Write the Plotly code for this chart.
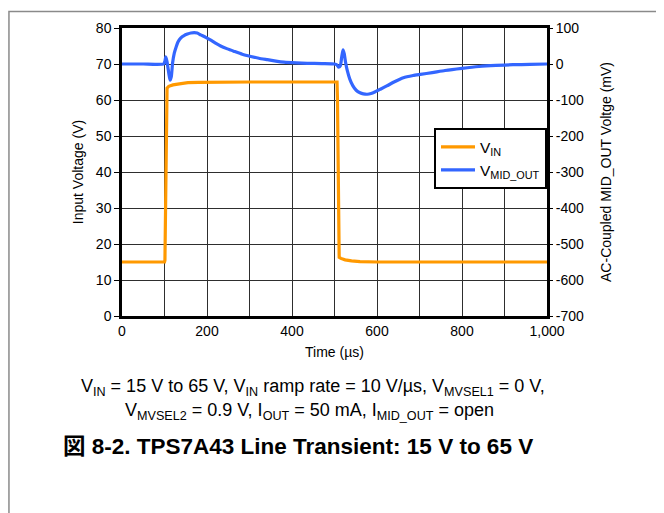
import plotly.graph_objects as go

# ---- data ----
vin_t = [0, 60, 100, 101, 103.5, 106, 110, 120, 135, 155, 180, 220, 300, 400, 450, 506, 507, 508.5, 511, 515, 525, 540, 560, 600, 700, 800, 900, 1000]
vin_v = [15, 15, 15, 15.5, 40, 63.3, 63.8, 64.2, 64.5, 64.8, 64.9, 65, 65, 65, 65, 65, 60, 40, 16.3, 16.0, 15.6, 15.3, 15.1, 15, 15, 15, 15, 15]

mid_t = [0, 50, 98, 101, 103, 106, 110, 113, 116, 119, 123, 127, 132, 138, 146, 154, 162, 170, 177, 185, 197, 209, 220, 232, 248, 264, 283, 303, 322, 342, 362, 381, 410, 436, 470, 500,
         506, 510, 514, 517, 520, 523, 526, 530, 536, 543, 551, 560, 568, 577, 586, 596, 608, 623, 640, 662, 685, 702, 730, 760, 800, 840, 880, 920, 960, 1000]
mid_mv = [0, 0, 0, 8, 20, 6, -25, -45, -35, 3, 30, 46, 62, 72, 79, 83, 86, 87, 86, 81, 74, 66, 58, 50, 42, 35, 27, 21, 16, 12, 8, 5, 3, 2, 1, 0,
          -3, -9, -4, 20, 39, 28, 5, -18, -42, -60, -73, -80, -83, -84, -82, -77, -70, -61, -50, -38, -32, -29, -24, -18, -12, -7, -4, -2, -1, 0]

left_ticks = [0, 10, 20, 30, 40, 50, 60, 70, 80]
right_ticks = [-700, -600, -500, -400, -300, -200, -100, 0, 100]
x_ticks = [0, 200, 400, 600, 800, 1000]
x_ticktext = ["0", "200", "400", "600", "800", "1,000"]

FONT = "Liberation Sans, Arial, Noto Sans CJK JP, sans-serif"
ORANGE = "#FF9900"
BLUE = "#3366FF"
GRID = "#2e2e2e"

fig = go.Figure()
fig.add_trace(go.Scatter(x=vin_t, y=vin_v, mode="lines", name="V<sub>IN</sub>",
                         line=dict(color=ORANGE, width=3.2), yaxis="y"))
fig.add_trace(go.Scatter(x=mid_t, y=mid_mv, mode="lines", name="V<sub>MID_OUT</sub>",
                         line=dict(color=BLUE, width=3.2, shape="spline", smoothing=0.5), yaxis="y2"))

fig.update_layout(
    width=656, height=505,
    margin=dict(l=114, r=117, t=17, b=197),
    paper_bgcolor="white", plot_bgcolor="white",
    font=dict(family=FONT, size=14, color="black"),
    showlegend=True,
    legend=dict(x=1, xanchor="right", y=0.652, yanchor="top",
                bgcolor="white", bordercolor="black", borderwidth=2,
                font=dict(size=15.5, family=FONT), itemwidth=34,
                tracegroupgap=0),
    xaxis=dict(range=[0, 1000], tickvals=x_ticks, ticktext=x_ticktext,
               showgrid=True, gridcolor=GRID, gridwidth=1,
               minor=dict(dtick=100, tick0=0, showgrid=True, gridcolor=GRID, gridwidth=1),
               showline=True, linecolor="black", linewidth=2.5, mirror=True,
               ticks="", zeroline=False,
               title=dict(text="Time (µs)", font=dict(size=14), standoff=10),
               tickfont=dict(size=14)),
    yaxis=dict(range=[0, 80], tickvals=left_ticks, ticktext=[str(v) for v in left_ticks],
               showgrid=True, gridcolor=GRID, gridwidth=1,
               showline=True, linecolor="black", linewidth=2.5, mirror=True,
               ticks="outside", ticklen=5, tickcolor="black", zeroline=False,
               title=dict(text="Input Voltage (V)", font=dict(size=14), standoff=9),
               tickfont=dict(size=14)),
    yaxis2=dict(range=[-700, 100], tickvals=right_ticks, ticktext=[str(v) for v in right_ticks],
                overlaying="y", side="right", showgrid=False,
                ticks="outside", ticklen=5, tickcolor="black", zeroline=False,
                showline=False,
                title=dict(text="AC-Coupled MID_OUT Voltge (mV)", font=dict(size=14), standoff=18),
                tickfont=dict(size=14)),
)

# outer frame
fig.add_shape(type="rect", xref="paper", yref="paper",
              x0=-0.266, x1=1.35, y0=-0.75, y1=1.057,
              line=dict(color="#8a8a8a", width=1.5), layer="below")

fig.add_annotation(xref="paper", yref="paper", x=0.449, y=-0.247, showarrow=False,
                   text="V<sub>IN</sub> = 15 V to 65 V, V<sub>IN</sub> ramp rate = 10 V/µs, V<sub>MVSEL1</sub> = 0 V,",
                   font=dict(size=18, family=FONT), xanchor="center", yanchor="middle")
fig.add_annotation(xref="paper", yref="paper", x=0.442, y=-0.333, showarrow=False,
                   text="V<sub>MVSEL2</sub> = 0.9 V, I<sub>OUT</sub> = 50 mA, I<sub>MID_OUT</sub> = open",
                   font=dict(size=18, family=FONT), xanchor="center", yanchor="middle")
fig.add_annotation(xref="paper", yref="paper", x=0.414, y=-0.454, showarrow=False,
                   text="<b>図 8-2. TPS7A43 Line Transient: 15 V to 65 V</b>",
                   font=dict(size=22.5, family=FONT), xanchor="center", yanchor="middle")

fig.write_html("out.html")
